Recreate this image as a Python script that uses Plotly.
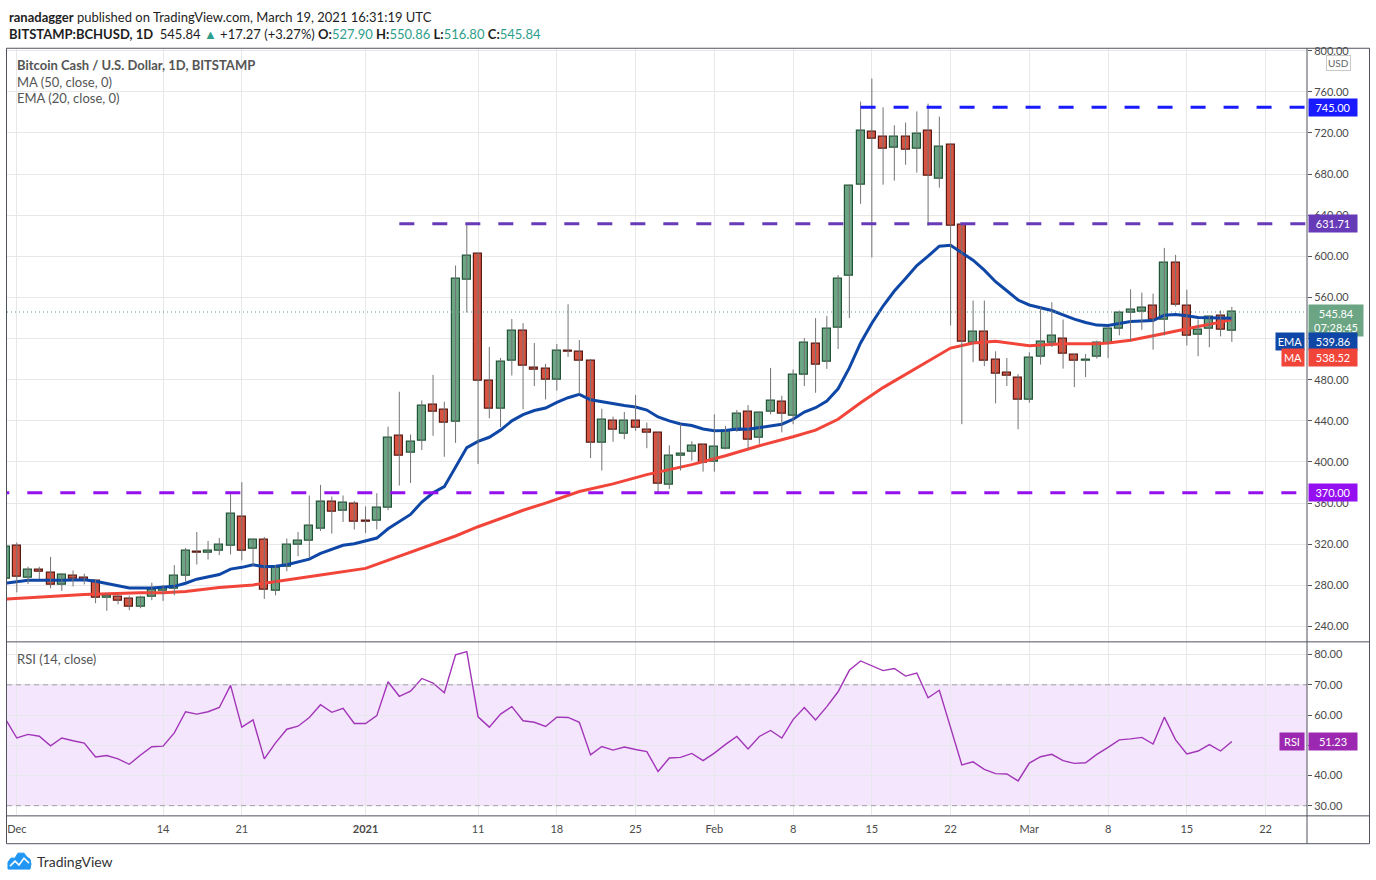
import pandas as pd
import plotly.graph_objects as go

W, H = 1376, 880
def px(x):
    return x / W
def py(y):
    return 1 - y / H

# ---------------- data ----------------
dates = pd.date_range("2020-11-30", "2021-03-19", freq="D")

opens = [286.0, 318.4, 287.1, 294.9, 291.9, 280.4, 289.7, 287.1, 284.2, 267.8,
         268.8, 266.8, 259.1, 268.8, 274.6, 277.1, 289.0, 312.6, 311.3, 313.8,
         318.1, 347.1, 315.2, 323.9, 274.6, 297.8, 319.0, 322.9, 335.1, 360.9,
         352.9, 359.0, 342.9, 342.9, 355.1, 425.4, 409.3, 420.6, 455.4, 450.6,
         439.0, 577.3, 602.4, 478.6, 451.5, 498.9, 527.9, 491.5, 490.5, 479.6,
         508.6, 507.6, 498.0, 418.9, 439.6, 427.7, 439.6, 431.8, 428.3, 378.1,
         406.1, 410.0, 416.7, 400.3, 413.1, 430.6, 448.6, 423.5, 448.6, 458.3,
         445.4, 485.0, 515.4, 497.0, 530.8, 581.1, 670.1, 721.4, 716.5, 705.9,
         716.5, 704.9, 722.3, 675.9, 708.8, 630.5, 516.3, 527.0, 499.9, 486.4,
         481.5, 460.3, 501.9, 516.3, 520.2, 504.7, 498.0, 501.9, 515.4, 529.9,
         545.4, 546.3, 552.1, 538.6, 593.7, 552.1, 524.1, 529.9, 542.5, 527.90]

highs = [322.0, 321.6, 298.1, 298.1, 307.7, 292.0, 294.5, 291.3, 285.2, 272.3,
         270.7, 270.0, 270.0, 282.6, 280.4, 299.7, 316.4, 331.9, 323.2, 326.1,
         368.7, 380.3, 325.5, 327.1, 299.7, 325.5, 331.9, 367.4, 377.7, 366.4,
         367.4, 362.2, 356.8, 369.6, 434.4, 468.3, 426.7, 459.9, 484.7, 458.6,
         591.1, 631.71, 603.5, 511.8, 501.2, 538.9, 535.0, 515.7, 495.4, 514.7,
         553.4, 518.5, 500.2, 451.8, 444.1, 448.6, 465.1, 438.3, 428.9, 416.1,
         437.0, 420.2, 417.5, 446.3, 435.1, 450.6, 455.4, 449.3, 491.5, 464.4,
         489.9, 520.5, 539.9, 542.1, 581.7, 669.8, 750.4, 772.9, 744.9, 727.5,
         730.1, 741.0, 748.5, 735.9, 709.8, 631.0, 557.0, 557.0, 507.6, 501.2,
         485.4, 506.7, 550.2, 555.3, 538.6, 505.0, 505.0, 518.0, 531.0, 547.3,
         567.9, 564.7, 563.7, 608.2, 601.4, 567.6, 538.6, 542.0, 547.3, 550.86]

lows = [280.0, 273.2, 281.3, 286.2, 277.1, 274.6, 279.0, 280.9, 262.6, 255.2,
        261.6, 255.8, 257.7, 265.5, 264.9, 270.3, 283.6, 300.3, 305.1, 309.4,
        310.0, 304.2, 298.7, 266.8, 270.3, 293.7, 308.4, 306.8, 332.9, 330.3,
        341.6, 334.3, 331.0, 334.3, 353.0, 377.1, 379.6, 411.5, 425.4, 405.1,
        418.6, 545.4, 398.0, 442.5, 433.8, 484.1, 451.2, 473.8, 460.8, 469.5,
        502.1, 465.7, 403.8, 391.6, 419.6, 422.2, 430.3, 413.4, 369.0, 373.8,
        391.6, 401.2, 390.6, 390.6, 412.2, 429.3, 412.5, 417.7, 446.3, 428.8,
        436.7, 473.8, 467.3, 490.5, 509.9, 539.9, 651.1, 598.8, 669.7, 673.6,
        689.1, 681.4, 629.5, 666.8, 532.8, 436.7, 497.0, 493.1, 457.0, 473.8,
        431.8, 457.6, 494.7, 511.8, 490.8, 472.8, 482.5, 500.5, 501.0, 523.1,
        517.3, 528.5, 509.2, 523.1, 551.2, 513.4, 502.8, 511.5, 522.1, 516.80]

closes = [318.0, 288.1, 294.9, 293.0, 280.4, 290.0, 286.8, 284.2, 267.8, 270.0,
          264.9, 259.1, 268.1, 275.5, 277.4, 289.0, 313.2, 311.3, 313.5, 319.0,
          350.0, 313.2, 323.9, 275.8, 296.8, 319.0, 322.9, 337.7, 360.9, 351.9,
          359.9, 342.3, 341.9, 355.1, 423.5, 406.1, 419.6, 454.4, 448.6, 438.0,
          578.2, 600.5, 478.6, 451.5, 497.0, 527.9, 493.1, 489.3, 479.6, 508.6,
          507.6, 498.0, 418.9, 441.5, 431.2, 439.6, 433.1, 428.3, 379.0, 406.1,
          408.0, 415.8, 399.3, 414.8, 430.3, 446.7, 421.9, 447.7, 459.3, 446.5,
          484.4, 516.3, 494.7, 529.9, 578.5, 668.2, 722.6, 714.6, 704.9, 716.5,
          703.9, 719.4, 678.8, 706.9, 629.5, 517.3, 527.0, 498.0, 485.4, 483.5,
          460.3, 500.9, 517.3, 523.1, 505.7, 498.9, 499.9, 516.3, 529.9, 545.4,
          547.6, 550.2, 538.6, 593.7, 553.1, 523.1, 528.9, 541.5, 528.57, 545.84]

ema_dates = ["2020-11-30", "2020-12-02", "2020-12-05", "2020-12-07", "2020-12-08", "2020-12-10",
             "2020-12-11", "2020-12-13", "2020-12-14", "2020-12-15", "2020-12-16", "2020-12-17",
             "2020-12-19", "2020-12-20", "2020-12-21", "2020-12-22", "2020-12-23", "2020-12-24",
             "2020-12-25", "2020-12-26", "2020-12-27", "2020-12-28", "2020-12-29", "2020-12-30",
             "2020-12-31", "2021-01-01", "2021-01-02", "2021-01-03", "2021-01-04", "2021-01-05",
             "2021-01-06", "2021-01-07", "2021-01-08", "2021-01-09", "2021-01-10", "2021-01-11",
             "2021-01-12", "2021-01-13", "2021-01-14", "2021-01-15", "2021-01-16", "2021-01-17",
             "2021-01-18", "2021-01-19", "2021-01-20", "2021-01-21", "2021-01-22", "2021-01-23",
             "2021-01-24", "2021-01-25", "2021-01-26", "2021-01-27", "2021-01-28", "2021-01-29",
             "2021-01-30", "2021-01-31", "2021-02-01", "2021-02-02", "2021-02-03", "2021-02-04",
             "2021-02-05", "2021-02-06", "2021-02-07", "2021-02-08", "2021-02-09", "2021-02-10",
             "2021-02-11", "2021-02-12", "2021-02-13", "2021-02-14", "2021-02-15", "2021-02-16",
             "2021-02-17", "2021-02-18", "2021-02-19", "2021-02-20", "2021-02-21", "2021-02-22",
             "2021-02-23", "2021-02-24", "2021-02-25", "2021-02-26", "2021-02-27", "2021-02-28",
             "2021-03-01", "2021-03-02", "2021-03-03", "2021-03-04", "2021-03-05", "2021-03-06",
             "2021-03-07", "2021-03-08", "2021-03-09", "2021-03-10", "2021-03-11", "2021-03-12",
             "2021-03-13", "2021-03-14", "2021-03-15", "2021-03-16", "2021-03-17", "2021-03-18",
             "2021-03-19"]
ema_values = [282.0, 285.0, 285.0, 285.5, 284.0, 279.5,
              277.5, 277.5, 278.0, 279.0, 282.0, 286.0,
              290.5, 295.8, 297.5, 300.0, 298.0, 298.5,
              300.0, 302.5, 305.5, 311.0, 315.0, 319.0,
              320.5, 323.0, 326.0, 335.0, 342.0, 349.0,
              361.0, 370.0, 376.0, 395.0, 414.0, 420.0,
              424.0, 431.0, 440.0, 446.0, 450.0, 452.5,
              458.0, 462.5, 465.7, 460.5, 458.5, 456.5,
              455.0, 453.5, 450.5, 443.8, 440.0, 437.0,
              435.5, 432.0, 430.3, 430.5, 432.0, 431.8,
              433.5, 435.1, 436.7, 441.5, 448.6, 452.8,
              459.3, 471.2, 491.5, 515.7, 535.0, 551.7,
              566.3, 578.5, 591.1, 600.1, 609.8, 610.7,
              603.4, 596.2, 586.6, 575.3, 566.5, 557.5,
              552.7, 550.2, 547.3, 543.0, 538.9, 535.7,
              533.1, 532.8, 535.0, 536.6, 537.0, 537.5,
              542.7, 543.4, 542.1, 540.5, 540.2, 539.9,
              539.86]

ma_dates = ["2020-11-30", "2020-12-03", "2020-12-07", "2020-12-12", "2020-12-14", "2020-12-16",
            "2020-12-19", "2020-12-22", "2020-12-25", "2020-12-28", "2021-01-01", "2021-01-03",
            "2021-01-05", "2021-01-07", "2021-01-09", "2021-01-11", "2021-01-13", "2021-01-15",
            "2021-01-17", "2021-01-20", "2021-01-23", "2021-01-26", "2021-01-29", "2021-01-30",
            "2021-02-02", "2021-02-05", "2021-02-08", "2021-02-10", "2021-02-12", "2021-02-14",
            "2021-02-16", "2021-02-18", "2021-02-20", "2021-02-22", "2021-02-24", "2021-02-26",
            "2021-03-01", "2021-03-04", "2021-03-07", "2021-03-08", "2021-03-10", "2021-03-12",
            "2021-03-14", "2021-03-16", "2021-03-18", "2021-03-19"]
ma_values = [266.6, 268.5, 271.0, 272.7, 272.7, 274.0,
             278.0, 280.4, 285.0, 290.0, 296.5, 304.5,
             312.0, 320.0, 328.0, 337.0, 345.0, 353.0,
             360.0, 371.3, 378.7, 387.7, 395.0, 397.4,
             406.0, 415.8, 424.5, 431.0, 441.5, 457.6,
             472.3, 485.5, 498.0, 510.8, 515.7, 517.5,
             513.0, 515.0, 515.0, 515.8, 518.3, 522.8,
             527.6, 531.8, 536.0, 538.52]

rsi_values = [58.6,
              52.4, 53.6, 53.0, 49.8, 52.4, 51.5, 50.7, 46.1, 46.6, 45.5,
              43.7, 46.8, 49.5, 49.7, 54.1, 61.1, 60.3, 61.1, 62.5, 69.8,
              56.0, 58.4, 45.5, 50.8, 55.3, 56.3, 59.2, 63.4, 60.9, 62.2, 57.2,
              57.2, 59.8, 71.0, 66.2, 67.9, 72.1, 70.6, 67.4, 79.9, 81.0,
              59.4, 56.0, 60.3, 62.8, 58.1, 57.6, 56.2, 59.3, 59.2, 57.6,
              46.8, 49.6, 48.4, 49.4, 48.6, 47.9, 41.3, 45.8, 46.0, 47.3, 44.9,
              47.4, 50.3, 52.9, 48.8, 52.9, 54.9, 52.4, 58.5, 62.5, 58.4,
              62.8, 67.7, 74.8, 77.9, 76.4, 74.7, 75.4, 72.9, 73.9, 65.7,
              68.2, 55.9, 43.5, 44.5, 42.0, 40.6, 40.5, 38.2,
              44.1, 46.2, 47.0, 44.9, 44.0, 44.2, 47.0, 49.3, 51.8, 52.1,
              52.6, 50.4, 59.3, 51.8, 47.1, 48.1, 50.2, 48.1, 51.23]

level_values = [745.00, 631.71, 370.00]
level_starts = ["2021-02-14", "2021-01-04", "2020-11-29"]
level_colors = ["#1a1aff", "#673ab7", "#9510f0"]

rsi_levels = [70, 30]

price_ticks = [240, 280, 320, 360, 400, 440, 480, 520, 560, 600, 640, 680, 720, 760, 800]
price_tick_labels = ["240.00", "280.00", "320.00", "360.00", "400.00", "440.00", "480.00", "",
                     "560.00", "600.00", "640.00", "680.00", "720.00", "760.00", "800.00"]
rsi_ticks = [30, 40, 50, 60, 70, 80]
rsi_tick_labels = ["30.00", "40.00", "", "60.00", "70.00", "80.00"]
date_ticks = ["2020-12-01", "2020-12-14", "2020-12-21", "2021-01-01", "2021-01-11", "2021-01-18",
              "2021-01-25", "2021-02-01", "2021-02-08", "2021-02-15", "2021-02-22", "2021-03-01",
              "2021-03-08", "2021-03-15", "2021-03-22"]
date_labels = ["Dec", "14", "21", "<b>2021</b>", "11", "18", "25", "Feb", "8", "15", "22", "Mar",
               "8", "15", "22"]

last_close = closes[-1]
ema_last = ema_values[-1]
ma_last = ma_values[-1]
rsi_last = rsi_values[-1]

# ---------------- style ----------------
FONT = "Lato"
UP_FILL, UP_LINE = "#6ba583", "#225437"
DN_FILL, DN_LINE = "#d75442", "#5b1a13"
WICK = "#737375"
GRID = "#e8e8ea"
FRAME = "#50535e"
X_RANGE = ["2020-11-30 03:06", "2021-03-25 16:20"]
DAY_MS = 86400000

fig = go.Figure()

# wicks
wx, wy = [], []
for d, h, l in zip(dates, highs, lows):
    wx += [d, d, None]
    wy += [l, h, None]

# EMA / MA lines (drawn under candles)
fig.add_trace(go.Scatter(x=pd.to_datetime(ma_dates), y=ma_values, mode="lines",
                         line=dict(color="#f2453a", width=3), xaxis="x", yaxis="y",
                         hoverinfo="skip", showlegend=False))
fig.add_trace(go.Scatter(x=pd.to_datetime(ema_dates), y=ema_values, mode="lines",
                         line=dict(color="#0f47a6", width=3), xaxis="x", yaxis="y",
                         hoverinfo="skip", showlegend=False))

fig.add_trace(go.Scatter(x=wx, y=wy, mode="lines", line=dict(color=WICK, width=1),
                         xaxis="x", yaxis="y", hoverinfo="skip", showlegend=False,
                         connectgaps=False))

bases = [min(o, c) for o, c in zip(opens, closes)]
heights = [max(abs(c - o), 0.9) for o, c in zip(opens, closes)]
fills = [UP_FILL if c >= o else DN_FILL for o, c in zip(opens, closes)]
borders = [UP_LINE if c >= o else DN_LINE for o, c in zip(opens, closes)]
fig.add_trace(go.Bar(x=dates, y=heights, base=bases, width=0.72 * DAY_MS,
                     marker=dict(color=fills, line=dict(color=borders, width=1.2)),
                     xaxis="x", yaxis="y", hoverinfo="skip", showlegend=False))

# horizontal levels
for val, start, col in zip(level_values, level_starts, level_colors):
    fig.add_trace(go.Scatter(x=[pd.Timestamp(start), pd.Timestamp(X_RANGE[1])], y=[val, val],
                             mode="lines", line=dict(color=col, width=3, dash="15px,18px"),
                             xaxis="x", yaxis="y", hoverinfo="skip", showlegend=False))

# last price dotted line
fig.add_trace(go.Scatter(x=[pd.Timestamp(X_RANGE[0]), pd.Timestamp(X_RANGE[1])],
                         y=[last_close, last_close], mode="lines",
                         line=dict(color="#5f9a86", width=1, dash="1px,3px"),
                         xaxis="x", yaxis="y", hoverinfo="skip", showlegend=False))

# RSI
fig.add_trace(go.Scatter(x=dates, y=rsi_values, mode="lines",
                         line=dict(color="#a235b8", width=1.4), xaxis="x2", yaxis="y2",
                         hoverinfo="skip", showlegend=False))

shapes = []
# RSI band
shapes.append(dict(type="rect", xref="paper", yref="y2", x0=px(7), x1=px(1307),
                   y0=rsi_levels[1], y1=rsi_levels[0], fillcolor="#f3e6fd",
                   line=dict(width=0), layer="below"))
for lv in rsi_levels:
    shapes.append(dict(type="line", xref="paper", yref="y2", x0=px(7), x1=px(1307),
                       y0=lv, y1=lv, line=dict(color="#a59cab", width=1, dash="5px,4px"),
                       layer="above"))
# frame
shapes.append(dict(type="rect", xref="paper", yref="paper", x0=px(6.5), x1=px(1369.5),
                   y0=py(843.5), y1=py(43.5), line=dict(color=FRAME, width=1)))
for yy in (640.5, 815.5):
    shapes.append(dict(type="line", xref="paper", yref="paper", x0=px(6.5), x1=px(1369.5),
                       y0=py(yy), y1=py(yy), line=dict(color=FRAME, width=1)))
shapes.append(dict(type="line", xref="paper", yref="paper", x0=px(1307), x1=px(1307),
                   y0=py(843.5), y1=py(43.5), line=dict(color=FRAME, width=1)))

# TradingView logo (simple cloud)
def pth(pts, close=True):
    s = "M " + " L ".join(f"{px(a):.5f},{py(b):.5f}" for a, b in pts)
    return s + (" Z" if close else "")
cloud = [(8, 869), (8, 862), (11, 858), (15, 858), (18, 853), (24, 853), (27, 857),
         (30, 859), (31, 864), (30, 869)]
shapes.append(dict(type="path", xref="paper", yref="paper", path=pth(cloud),
                   fillcolor="#2196f3", line=dict(color="#2196f3", width=1)))
zig = [(10, 866), (15, 861), (19, 865), (24, 858), (29, 863)]
shapes.append(dict(type="path", xref="paper", yref="paper", path=pth(zig, False),
                   line=dict(color="white", width=1.6)))

ann = []
TEAL = "#2e9e8c"
ann.append(dict(x=px(7), y=py(12), xref="paper", yref="paper", xanchor="left", yanchor="middle",
                showarrow=False, font=dict(family=FONT, size=13, color="#1e1e1e"),
                text="<b>ranadagger</b> published on TradingView.com, March 19, 2021 16:31:19 UTC"))
line2 = ("<b>BITSTAMP:BCHUSD, 1D</b>  545.84 <span style='color:%s'>▲</span> +17.27 (+3.27%%) "
         "<b>O:</b><span style='color:%s'>527.90</span> <b>H:</b><span style='color:%s'>550.86</span> "
         "<b>L:</b><span style='color:%s'>516.80</span> <b>C:</b><span style='color:%s'>545.84</span>"
         % (TEAL, TEAL, TEAL, TEAL, TEAL))
ann.append(dict(x=px(7), y=py(29), xref="paper", yref="paper", xanchor="left", yanchor="middle",
                showarrow=False, font=dict(family=FONT, size=13, color="#1e1e1e"), text=line2))
ann.append(dict(x=px(15), y=py(60), xref="paper", yref="paper", xanchor="left", yanchor="middle",
                showarrow=False, font=dict(family=FONT, size=13, color="#555555"),
                text="<b>Bitcoin Cash / U.S. Dollar, 1D, BITSTAMP</b>"))
ann.append(dict(x=px(15), y=py(77), xref="paper", yref="paper", xanchor="left", yanchor="middle",
                showarrow=False, font=dict(family=FONT, size=13, color="#555555"),
                text="MA (50, close, 0)"))
ann.append(dict(x=px(15), y=py(94), xref="paper", yref="paper", xanchor="left", yanchor="middle",
                showarrow=False, font=dict(family=FONT, size=13, color="#555555"),
                text="EMA (20, close, 0)"))
ann.append(dict(x=px(15), y=py(658), xref="paper", yref="paper", xanchor="left", yanchor="middle",
                showarrow=False, font=dict(family=FONT, size=13, color="#555555"),
                text="RSI (14, close)"))
ann.append(dict(x=px(35), y=py(861), xref="paper", yref="paper", xanchor="left", yanchor="middle",
                showarrow=False, font=dict(family=FONT, size=14, color="#333333"),
                text="TradingView"))
ann.append(dict(x=px(1338), y=py(58), xref="paper", yref="paper", xanchor="center", yanchor="middle",
                showarrow=False, font=dict(family=FONT, size=10, color="#666666"), text="USD",
                bgcolor="white", bordercolor="#c9c9c9", borderwidth=1, borderpad=1))

def vbox(text, yval, yref, bg, yshift=0, width=44):
    return dict(x=px(1308), y=yval, xref="paper", yref=yref, xanchor="left", yanchor="middle",
                showarrow=False, yshift=yshift, text=text, width=width, align="center",
                font=dict(family=FONT, size=11, color="white"), bgcolor=bg, borderpad=2)

def lbox(text, yval, yref, bg, yshift=0, width=22):
    return dict(x=px(1305), y=yval, xref="paper", yref=yref, xanchor="right", yanchor="middle",
                showarrow=False, yshift=yshift, text=text, width=width, align="center",
                font=dict(family=FONT, size=11, color="white"), bgcolor=bg, borderpad=2)

ann.append(vbox("%.2f" % level_values[0], level_values[0], "y", level_colors[0]))
ann.append(vbox("%.2f" % level_values[1], level_values[1], "y", level_colors[1]))
ann.append(vbox("%.2f" % level_values[2], level_values[2], "y", level_colors[2]))
ann.append(dict(x=px(1308), y=last_close, xref="paper", yref="y", xanchor="left", yanchor="top",
                showarrow=False, yshift=8, text="%.2f<br>07:28:45" % last_close, width=50,
                align="center", font=dict(family=FONT, size=11, color="white"),
                bgcolor="#6ba583", borderpad=2))
ann.append(vbox("%.2f" % ema_last, ema_last, "y", "#0f47a6", yshift=-23))
ann.append(lbox("EMA", ema_last, "y", "#0f47a6", yshift=-23, width=24))
ann.append(vbox("%.2f" % ma_last, ma_last, "y", "#f2453a", yshift=-38))
ann.append(lbox("MA", ma_last, "y", "#f2453a", yshift=-38, width=18))
ann.append(vbox("%.2f" % rsi_last, rsi_last, "y2", "#9c27b0"))
ann.append(lbox("RSI", rsi_last, "y2", "#9c27b0", width=20))

axfont = dict(family=FONT, size=11, color="#4a4a4a")
fig.update_layout(
    width=W, height=H, autosize=False,
    margin=dict(l=0, r=0, t=0, b=0),
    paper_bgcolor="white", plot_bgcolor="white",
    showlegend=False, barmode="overlay", bargap=0,
    xaxis=dict(domain=[px(7), px(1307)], range=X_RANGE, type="date", anchor="y",
               tickvals=date_ticks, showticklabels=False, showgrid=True, gridcolor=GRID,
               gridwidth=1, zeroline=False, showline=False, fixedrange=True),
    yaxis=dict(domain=[py(640), py(44)], range=[225.5, 801.9], anchor="x", side="right",
               tickvals=price_ticks, ticktext=price_tick_labels,
               showgrid=True, gridcolor=GRID, zeroline=False, showline=False,
               ticks="outside", ticklen=4, tickcolor="#555555", tickfont=axfont,
               fixedrange=True),
    xaxis2=dict(domain=[px(7), px(1307)], range=X_RANGE, type="date", anchor="y2", matches="x",
                tickvals=date_ticks, ticktext=date_labels, tickfont=axfont, showgrid=True,
                gridcolor=GRID, zeroline=False, showline=False, ticks="",
                ticklabelstandoff=6, fixedrange=True),
    yaxis2=dict(domain=[py(815), py(641)], range=[26.8, 84.05], anchor="x2", side="right",
                tickvals=rsi_ticks, ticktext=rsi_tick_labels,
                showgrid=True, gridcolor=GRID, zeroline=False, showline=False,
                ticks="outside", ticklen=4, tickcolor="#555555", tickfont=axfont,
                fixedrange=True),
    shapes=shapes, annotations=ann,
    font=dict(family=FONT),
)

fig.write_html("out.html", config={"displayModeBar": False},
               post_script="document.body.style.margin='0';document.body.style.overflow='hidden';")
